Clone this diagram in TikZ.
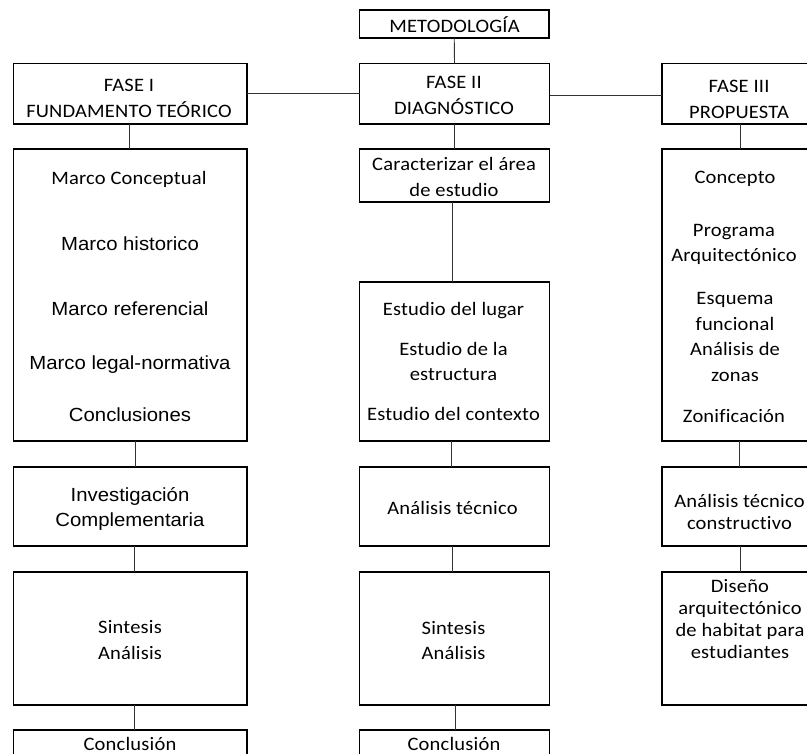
\documentclass[tikz,border=0pt]{standalone}
\usepackage{fontspec}
\newfontfamily\calfont[FakeStretch=1.08,LetterSpace=1,Ligatures=NoCommon]{Carlito}
\newfontfamily\arifont[FakeStretch=1.07]{Liberation Sans}
\begin{document}
\begin{tikzpicture}[x=1pt,y=-1pt,
  box/.style={draw=black,line width=1.6pt,inner sep=0pt,outer sep=0pt,minimum width=#1},
  cone/.style={draw=black!80,line width=0.9pt},
  tc/.style={anchor=base,inner sep=0pt,font=\calfont\fontsize{19}{22}\selectfont},
  ta/.style={anchor=base,inner sep=0pt,font=\arifont\fontsize{19}{22}\selectfont}]
\useasboundingbox (0,0) rectangle (807,754);
% boxes
\node[box=189.5,minimum height=28] (met) at (454.25,24) {};
\node[box=233.5,minimum height=60.5] (f1) at (130.25,93.75) {};
\node[box=190,minimum height=60.5] (f2) at (454.5,93.75) {};
\node[box=156,minimum height=60.5] (f3) at (740,93.75) {};
\node[box=233.5,minimum height=292] (marco) at (130.25,295) {};
\node[box=190,minimum height=53] (carac) at (454.5,175.5) {};
\node[box=190,minimum height=159] (estudio) at (454.5,361.5) {};
\node[box=156,minimum height=292] (concepto) at (740,295) {};
\node[box=233.5,minimum height=79] (inv) at (130.25,506.5) {};
\node[box=190,minimum height=79] (at2) at (454.5,506.5) {};
\node[box=156,minimum height=79] (at3) at (740,506.5) {};
\node[box=233.5,minimum height=133] (sin1) at (130.25,638.5) {};
\node[box=190,minimum height=133] (sin2) at (454.5,638.5) {};
\node[box=156,minimum height=133] (dis) at (740,638.5) {};
\node[box=233.5,minimum height=70] (con1) at (130.25,765) {};
\node[box=190,minimum height=70] (con2) at (454.5,765) {};
% connectors
\draw[cone] (met.south) -- (f2.north);
\draw[cone] (f1.east) -- (f2.west);
\draw[cone] ([yshift=-2pt]f2.east) -- ([yshift=-2pt]f3.west);
\draw[cone] ([xshift=-1pt]f1.south) -- ([xshift=-1pt]marco.north);
\draw[cone] (f2.south) -- (carac.north);
\draw[cone] ([xshift=-2pt]carac.south) -- ([xshift=-2pt]estudio.north);
\draw[cone] (f3.south) -- (concepto.north);
\draw[cone] ([xshift=5.5pt]marco.south) -- ([xshift=5.5pt]inv.north);
\draw[cone] ([xshift=4.5pt]inv.south) -- ([xshift=4.5pt]sin1.north);
\draw[cone] ([xshift=4.5pt]sin1.south) -- ([xshift=4.5pt]con1.north);
\draw[cone] ([xshift=-3.5pt]estudio.south) -- ([xshift=-3.5pt]at2.north);
\draw[cone] ([xshift=-2.5pt]at2.south) -- ([xshift=-2.5pt]sin2.north);
\draw[cone] ([xshift=0.5pt]sin2.south) -- ([xshift=0.5pt]con2.north);
\draw[cone] ([xshift=-1pt]concepto.south) -- ([xshift=-1pt]at3.north);
\draw[cone] (at3.south) -- (dis.north);
% texts top
\node[tc] (tmet) at (454.5,32.3) {METODOLOGÍA};
\node[tc] (tf1a) at (129,91.5) {FASE I};
\node[tc] (tf1b) at (129,117.3) {FUNDAMENTO TEÓRICO};
\node[tc] (tf2a) at (454,89) {FASE II};
\node[tc] (tf2b) at (454,115) {DIAGNÓSTICO};
\node[tc] (tf3a) at (739,93) {FASE III};
\node[tc] (tf3b) at (739,118.5) {PROPUESTA};
% column 1
\node[tc] (m1) at (129,184.3) {Marco Conceptual};
\node[ta] (m2) at (130,250.5) {Marco historico};
\node[ta] (m3) at (130,316) {Marco referencial};
\node[ta] (m4) at (130,369.5) {Marco legal-normativa};
\node[ta] (m5) at (130,421.5) {Conclusiones};
\node[ta] (i1) at (130,501) {Investigación};
\node[ta] (i2) at (130,526.7) {Complementaria};
\node[tc] (s1a) at (130,633.3) {Sintesis};
\node[tc] (s1b) at (130,659.3) {Análisis};
\node[tc] (c1) at (130,750.7) {Conclusión};
% column 2
\node[tc] (k1) at (454,170.7) {Caracterizar el área};
\node[tc] (k2) at (454,197) {de estudio};
\node[tc] (e1) at (453.5,316) {Estudio del lugar};
\node[tc] (e2) at (453.5,356) {Estudio de la};
\node[tc] (e3) at (453.5,380.7) {estructura};
\node[tc] (e4) at (453.5,420.7) {Estudio del contexto};
\node[tc] (a2) at (452.5,514) {Análisis técnico};
\node[tc] (s2a) at (453.5,634.3) {Sintesis};
\node[tc] (s2b) at (453.5,659) {Análisis};
\node[tc] (c2) at (454,750.7) {Conclusión};
% column 3
\node[tc] (p1) at (735,183.3) {Concepto};
\node[tc] (p2) at (734,237) {Programa};
\node[tc] (p3) at (734,261.7) {Arquitectónico};
\node[tc] (p4) at (735,304.3) {Esquema};
\node[tc] (p5) at (735,331) {funcional};
\node[tc] (p6) at (735,356) {Análisis de};
\node[tc] (p7) at (735,381.7) {zonas};
\node[tc] (p8) at (734,422.3) {Zonificación};
\node[tc] (q1) at (739.5,507.7) {Análisis técnico};
\node[tc] (q2) at (739.5,529.3) {constructivo};
\node[tc] (d1) at (740,592.3) {Diseño};
\node[tc] (d2) at (740,614) {arquitectónico};
\node[tc] (d3) at (740,636.7) {de habitat para};
\node[tc] (d4) at (740,658.5) {estudiantes};
\end{tikzpicture}
\end{document}
